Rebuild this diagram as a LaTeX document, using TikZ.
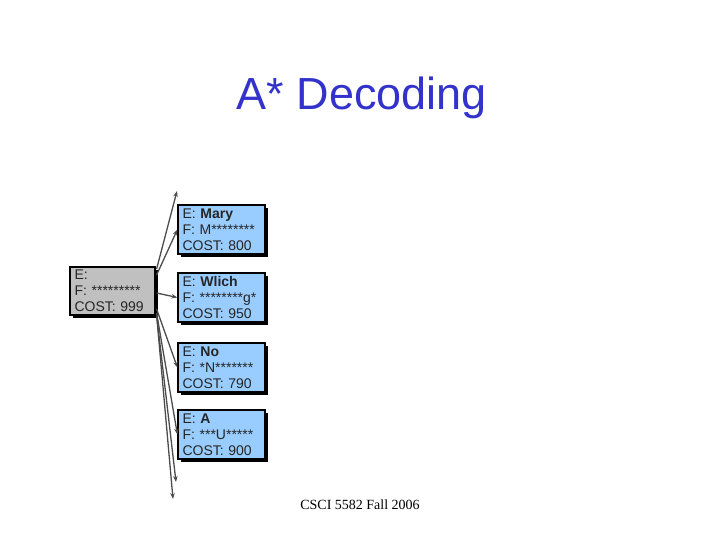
\documentclass[tikz,border=0pt]{standalone}
\usepackage{fontspec}
\setmainfont{Liberation Serif}
\setsansfont{Liberation Sans}
\usetikzlibrary{arrows.meta, positioning, shadows}
\definecolor{ttl}{HTML}{3333CC}
\definecolor{hyp}{HTML}{99CCFF}
\definecolor{rootgray}{HTML}{C0C0C0}
\tikzset{
  hypbox/.style = {rectangle, draw=black, line width=1.2bp, fill=#1,
                   minimum width=87bp, minimum height=49bp,
                   inner xsep=4.5bp, inner ysep=1bp,
                   text width=78bp, align=left, text=black!85,
                   font=\sffamily\fontsize{14bp}{16bp}\selectfont,
                   drop shadow={shadow xshift=3bp, shadow yshift=-3bp,
                                fill=black, opacity=1}},
  ext/.style    = {-{Stealth[length=6bp,width=4.5bp]}, line width=1.3bp,
                   color=black!70},
}
\begin{document}
\begin{tikzpicture}[x=1bp, y=-1bp]
  \useasboundingbox (0,0) rectangle (720,540);

  \node[font=\sffamily\fontsize{45bp}{50bp}\selectfont, text=ttl]
    (title) at (362,98) {A* Decoding};

  % partial hypothesis and its expansions
  \node[hypbox=rootgray, minimum width=85bp, minimum height=48bp,
        text width=76bp] (root) at (112.5,291)
    {E:\\F: *********\\COST: 999};

  \node[hypbox=hyp] (mary)  at (221.5,229.5)
    {E: \textbf{Mary}\\F: M********\\COST: 800};
  \node[hypbox=hyp] (wlich) at (221.5,297.5)
    {E: \textbf{Wlich}\\F: ********g*\\COST: 950};
  \node[hypbox=hyp] (no)    at (221.5,367.5)
    {E: \textbf{No}\\F: *N*******\\COST: 790};
  \node[hypbox=hyp] (a)     at (221.5,434.5)
    {E: \textbf{A}\\F: ***U*****\\COST: 900};

  \coordinate (up)    at (177,191);
  \coordinate (down1) at (176,482);
  \coordinate (down2) at (173,499);

  \draw[ext] (root.east) ++(1,-22) coordinate (r1) -- (up);
  \draw[ext] (root.east) ++(1,-16) coordinate (r2) -- (mary.west);
  \draw[ext] (root.east) ++(1,2)   coordinate (r3) -- (wlich.west);
  \draw[ext] (root.east) ++(1,18)  coordinate (r4) -- (no.west);
  \draw[ext] (root.east) ++(1,22)  coordinate (r5) -- (a.west);
  \draw[ext] (root.east) ++(1,24)  coordinate (r6) -- (down1);
  \draw[ext] (root.east) ++(1,24)  coordinate (r7) -- (down2);

  \node[font=\rmfamily\fontsize{14bp}{16bp}\selectfont] (foot) at (360,505)
    {CSCI 5582 Fall 2006};
\end{tikzpicture}
\end{document}
